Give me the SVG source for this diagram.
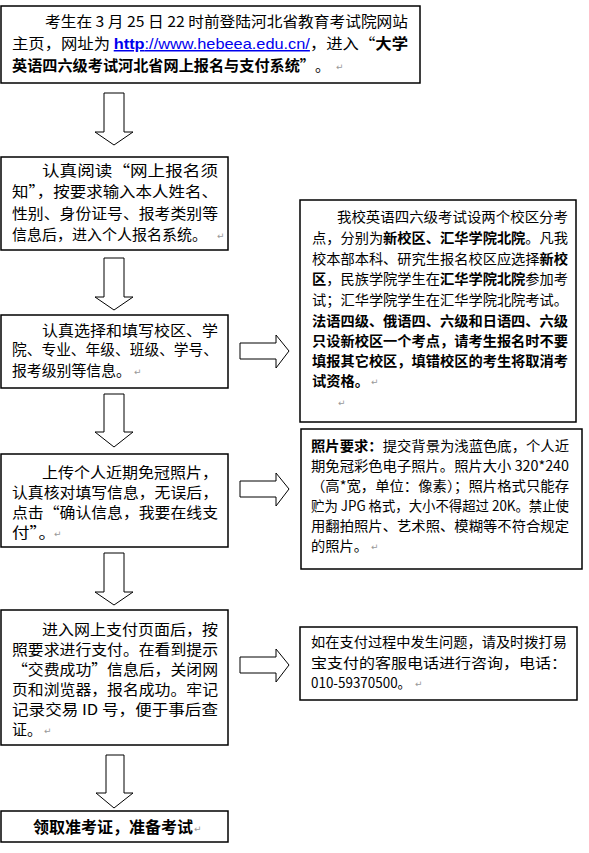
<svg xmlns="http://www.w3.org/2000/svg" width="589" height="853" viewBox="0 0 589 853">
<style>
.box{fill:#fff;stroke:#000;stroke-width:1.5}
.arr{fill:#fff;stroke:#000;stroke-width:1}
.t{font-family:"Noto Sans CJK SC","Liberation Sans",sans-serif;font-size:15px;fill:#000}
.s{font-family:"Noto Sans CJK SC","Liberation Sans",sans-serif;font-size:14px;fill:#000}
.b{font-weight:bold}
.u{fill:#0000ee;text-decoration:underline;font-family:"Liberation Sans",sans-serif}
.r{font-family:"DejaVu Sans",sans-serif;font-size:9px;fill:#999}
</style>
<rect width="589" height="853" fill="#fff"/>
<g id="connectors">
<polygon class="arr" points="104,93 124,93 124,132 133,132 114,145 95,132 104,132"/>
<polygon class="arr" points="104,258 124,258 124,297 133,297 114,310 95,297 104,297"/>
<polygon class="arr" points="104,394 124,394 124,432 133,432 114,447 95,432 104,432"/>
<polygon class="arr" points="104,553 124,553 124,592 133,592 114,605 95,592 104,592"/>
<polygon class="arr" points="106,755 124,755 124,793 133,793 114,808 96,793 106,793"/>
<polygon class="arr" points="240,343 276,343 276,335 289,351 276,368 276,359 240,359"/>
<polygon class="arr" points="240,481 276,481 276,473 289,489 276,506 276,497 240,497"/>
<polygon class="arr" points="240,657 276,657 276,649 289,665 276,682 276,673 240,673"/>
</g>
<g id="n1">
<rect class="box" x="1" y="6" width="419" height="77"/>
<text class="t" x="45" y="27" textLength="363" lengthAdjust="spacingAndGlyphs">考生在 3 月 25 日 22 时前登陆河北省教育考试院网站</text>
<text class="t" x="12" y="49" textLength="396" lengthAdjust="spacingAndGlyphs">主页，网址为 <tspan class="u b">http</tspan><tspan class="u">://www.hebeea.edu.cn/</tspan>，进入“<tspan class="b">大学</tspan></text>
<text class="t b" x="12" y="71" textLength="303" lengthAdjust="spacingAndGlyphs">英语四六级考试河北省网上报名与支付系统”</text>
<text class="t" x="315" y="71">。</text>
<text class="r" x="336" y="70">↵</text>
</g>
<g id="n2">
<rect class="box" x="1" y="157" width="227" height="93"/>
<text class="t" x="42" y="176" textLength="176" lengthAdjust="spacingAndGlyphs">认真阅读“网上报名须</text>
<text class="t" x="12" y="197" textLength="206" lengthAdjust="spacingAndGlyphs">知”，按要求输入本人姓名、</text>
<text class="t" x="12" y="219" textLength="206" lengthAdjust="spacingAndGlyphs">性别、身份证号、报考类别等</text>
<text class="t" x="12" y="240" textLength="195" lengthAdjust="spacingAndGlyphs">信息后，进入个人报名系统。</text>
<text class="r" x="217" y="239">↵</text>
</g>
<g id="n3">
<rect class="box" x="1" y="315" width="227" height="73"/>
<text class="t" x="42" y="336" textLength="176" lengthAdjust="spacingAndGlyphs">认真选择和填写校区、学</text>
<text class="t" x="12" y="355" textLength="206" lengthAdjust="spacingAndGlyphs">院、专业、年级、班级、学号、</text>
<text class="t" x="12" y="376" textLength="119" lengthAdjust="spacingAndGlyphs">报考级别等信息。</text>
<text class="r" x="134" y="375">↵</text>
</g>
<g id="n4">
<rect class="box" x="1" y="454" width="227" height="93"/>
<text class="t" x="42" y="478" textLength="176" lengthAdjust="spacingAndGlyphs">上传个人近期免冠照片，</text>
<text class="t" x="12" y="498" textLength="206" lengthAdjust="spacingAndGlyphs">认真核对填写信息，无误后，</text>
<text class="t" x="12" y="518" textLength="206" lengthAdjust="spacingAndGlyphs">点击“确认信息，我要在线支</text>
<text class="t" x="12" y="538" textLength="44" lengthAdjust="spacingAndGlyphs">付”。</text>
<text class="r" x="54" y="537">↵</text>
</g>
<g id="n5">
<rect class="box" x="1" y="610" width="227" height="135"/>
<text class="t" x="42" y="635" textLength="176" lengthAdjust="spacingAndGlyphs">进入网上支付页面后，按</text>
<text class="t" x="12" y="655" textLength="206" lengthAdjust="spacingAndGlyphs">照要求进行支付。在看到提示</text>
<text class="t" x="12" y="675" textLength="206" lengthAdjust="spacingAndGlyphs">“交费成功”信息后，关闭网</text>
<text class="t" x="12" y="695" textLength="206" lengthAdjust="spacingAndGlyphs">页和浏览器，报名成功。牢记</text>
<text class="t" x="12" y="715" textLength="206" lengthAdjust="spacingAndGlyphs">记录交易 ID 号，便于事后查</text>
<text class="t" x="12" y="735" textLength="30" lengthAdjust="spacingAndGlyphs">证。</text>
<text class="r" x="44" y="734">↵</text>
</g>
<g id="n6">
<rect class="box" x="1" y="811" width="227" height="31"/>
<text class="t b" x="33" y="833" style="font-size:16px" textLength="160" lengthAdjust="spacingAndGlyphs">领取准考证，准备考试</text>
<text class="r" x="194" y="832">↵</text>
</g>
<g id="n7">
<rect class="box" x="300" y="200" width="276" height="222"/>
<text class="s" x="337" y="222" textLength="231" lengthAdjust="spacingAndGlyphs">我校英语四六级考试设两个校区分考</text>
<text class="s" x="312" y="243" textLength="256" lengthAdjust="spacingAndGlyphs">点，分别为<tspan class="b">新校区、汇华学院北院</tspan>。凡我</text>
<text class="s" x="312" y="264" textLength="256" lengthAdjust="spacingAndGlyphs">校本部本科、研究生报名校区应选择<tspan class="b">新校</tspan></text>
<text class="s" x="312" y="284" textLength="256" lengthAdjust="spacingAndGlyphs"><tspan class="b">区</tspan>，民族学院学生在<tspan class="b">汇华学院北院</tspan>参加考</text>
<text class="s" x="312" y="305" textLength="256" lengthAdjust="spacingAndGlyphs">试；汇华学院学生在汇华学院北院考试。</text>
<text class="s b" x="312" y="326" textLength="256" lengthAdjust="spacingAndGlyphs">法语四级、俄语四、六级和日语四、六级</text>
<text class="s b" x="312" y="346" textLength="256" lengthAdjust="spacingAndGlyphs">只设新校区一个考点，请考生报名时不要</text>
<text class="s b" x="312" y="366" textLength="256" lengthAdjust="spacingAndGlyphs">填报其它校区，填错校区的考生将取消考</text>
<text class="s b" x="312" y="386" textLength="57" lengthAdjust="spacingAndGlyphs">试资格。</text>
<text class="r" x="371" y="385">↵</text>
<text class="r" x="338" y="406">↵</text>
</g>
<g id="n8">
<rect class="box" x="301" y="429" width="281" height="140"/>
<text class="s" x="311" y="451" textLength="258" lengthAdjust="spacingAndGlyphs"><tspan class="b">照片要求：</tspan>提交背景为浅蓝色底，个人近</text>
<text class="s" x="311" y="471" textLength="258" lengthAdjust="spacingAndGlyphs">期免冠彩色电子照片。照片大小 320*240</text>
<text class="s" x="311" y="491" textLength="258" lengthAdjust="spacingAndGlyphs">（高*宽，单位：像素）；照片格式只能存</text>
<text class="s" x="311" y="511" textLength="258" lengthAdjust="spacingAndGlyphs">贮为 JPG 格式，大小不得超过 20K。禁止使</text>
<text class="s" x="311" y="531" textLength="258" lengthAdjust="spacingAndGlyphs">用翻拍照片、艺术照、模糊等不符合规定</text>
<text class="s" x="311" y="551" textLength="57" lengthAdjust="spacingAndGlyphs">的照片。</text>
<text class="r" x="371" y="550">↵</text>
</g>
<g id="n9">
<rect class="box" x="300" y="627" width="277" height="73"/>
<text class="s" x="311" y="647" textLength="256" lengthAdjust="spacingAndGlyphs">如在支付过程中发生问题，请及时拨打易</text>
<text class="s" x="311" y="668" textLength="256" lengthAdjust="spacingAndGlyphs">宝支付的客服电话进行咨询，电话：</text>
<text class="s" x="311" y="688" textLength="100" lengthAdjust="spacingAndGlyphs">010-59370500。</text>
<text class="r" x="415" y="687">↵</text>
</g>
</svg>
